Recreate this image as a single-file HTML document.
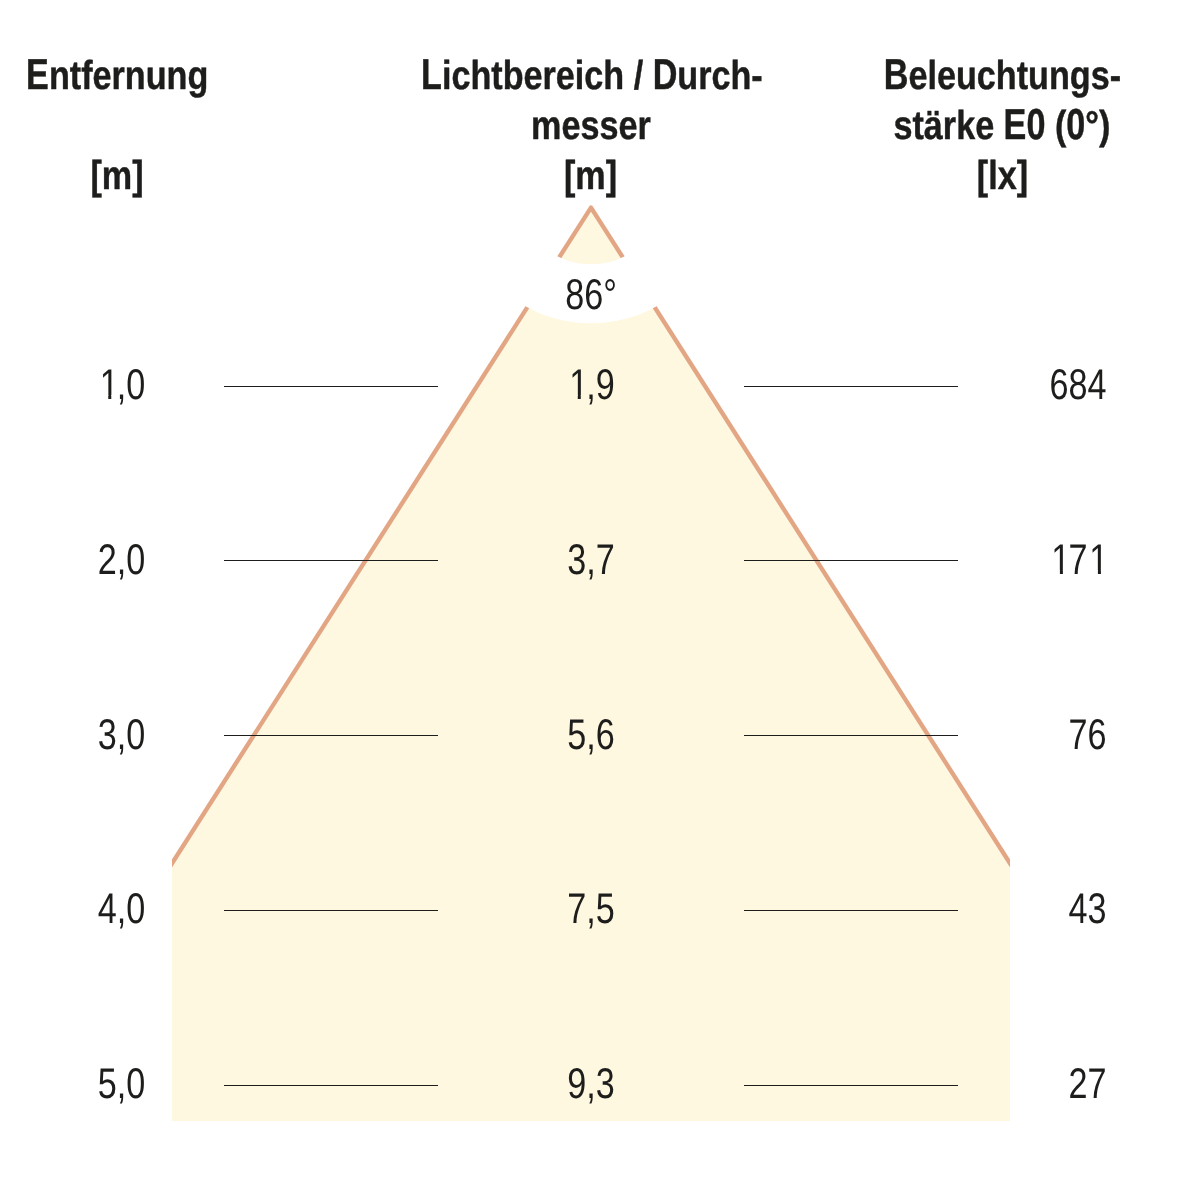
<!DOCTYPE html>
<html lang="de">
<head>
<meta charset="utf-8">
<title>Lichtkegel – Entfernung, Lichtbereich, Beleuchtungsstärke</title>
<style>
html,body{margin:0;padding:0;background:#fff;}
body{width:1182px;height:1182px;overflow:hidden;}
svg{display:block;}
text{font-family:"Liberation Sans",Arial,Helvetica,sans-serif;fill:#1d1d1b;text-rendering:geometricPrecision;}
.h{font-weight:bold;font-size:40.4px;text-anchor:middle;stroke:#1d1d1b;stroke-width:0.45;stroke-linejoin:round;letter-spacing:0px;}
.h .k{font-size:43.2px;}
.n{font-size:42.9px;}
</style>
</head>
<body>
<svg width="1182" height="1182" viewBox="0 0 1182 1182">
  <defs>
    <clipPath id="cone-clip"><rect x="172" y="0" width="838" height="1121"/></clipPath>
    <clipPath id="one0"><path clip-rule="evenodd" d="M-50,-100H200V100H-50Z M3.66,-3.88H13.19V1H3.66Z M16.98,-3.88H26.07V1H16.98Z"/></clipPath>
    <clipPath id="one1"><path clip-rule="evenodd" d="M-50,-100H200V100H-50Z M3.66,-3.88H13.19V1H3.66Z M16.98,-3.88H26.07V1H16.98Z"/></clipPath>
    <clipPath id="one2"><path clip-rule="evenodd" d="M-50,-100H200V100H-50Z M3.66,-3.88H13.19V1H3.66Z M16.98,-3.88H26.07V1H16.98Z M51.37,-3.88H60.91V1H51.37Z M64.70,-3.88H73.79V1H64.70Z"/></clipPath>
  </defs>
  <rect width="1182" height="1182" fill="#fff"/>
  <g clip-path="url(#cone-clip)">
    <polygon points="-48,1207.6 591,207.6 1230,1207.6" fill="#fff8e0"/>
    <polyline points="-48,1207.6 591,207.6 1230,1207.6" fill="none" stroke="#e3a685" stroke-width="4.4" stroke-linejoin="round"/>
  </g>
  <path d="M465.1,207 a125.9,116.3 0 1,0 251.8,0 a125.9,116.3 0 1,0 -251.8,0 Z M524.8,207 a66.2,57.2 0 1,0 132.4,0 a66.2,57.2 0 1,0 -132.4,0 Z" fill="#fff" fill-rule="evenodd"/>
  <g stroke="#1d1d1b" stroke-width="1" shape-rendering="crispEdges">
    <line x1="224" x2="438" y1="386.5" y2="386.5"/>
    <line x1="744" x2="958" y1="386.5" y2="386.5"/>
    <line x1="224" x2="438" y1="560.5" y2="560.5"/>
    <line x1="744" x2="958" y1="560.5" y2="560.5"/>
    <line x1="224" x2="438" y1="735.5" y2="735.5"/>
    <line x1="744" x2="958" y1="735.5" y2="735.5"/>
    <line x1="224" x2="438" y1="910.5" y2="910.5"/>
    <line x1="744" x2="958" y1="910.5" y2="910.5"/>
    <line x1="224" x2="438" y1="1085.5" y2="1085.5"/>
    <line x1="744" x2="958" y1="1085.5" y2="1085.5"/>
  </g>
  <g class="h">
    <text transform="translate(117.20,89) scale(0.8458,1)"><tspan class="k" textLength="26.95" lengthAdjust="spacingAndGlyphs">E</tspan>ntfernung</text>
    <text transform="translate(117.00,189) scale(0.8458,1)">[m]</text>
    <text transform="translate(591.90,89) scale(0.8458,1)"><tspan class="k" textLength="24.68" lengthAdjust="spacingAndGlyphs">L</tspan>ichtbereich / <tspan class="k" textLength="29.17" lengthAdjust="spacingAndGlyphs">D</tspan>urch-</text>
    <text transform="translate(590.90,139) scale(0.8458,1)">messer</text>
    <text transform="translate(590.50,189) scale(0.8458,1)">[m]</text>
    <text transform="translate(1002.40,89) scale(0.8458,1)"><tspan class="k" textLength="29.17" lengthAdjust="spacingAndGlyphs">B</tspan>eleuchtungs-</text>
    <text transform="translate(1001.90,139) scale(0.8458,1)">stärke <tspan class="k" textLength="49.41" lengthAdjust="spacingAndGlyphs">E0</tspan> (<tspan class="k" textLength="22.46" lengthAdjust="spacingAndGlyphs">0</tspan>°)</text>
    <text transform="translate(1002.50,189) scale(0.8458,1)">[lx]</text>
  </g>
  <g class="n">
    <text transform="translate(565.16,309) scale(0.7965,1)">86°</text>
    <text transform="translate(97.75,399) scale(0.7965,1)" clip-path="url(#one0)"><tspan dx="2.4">1</tspan><tspan dx="-2.4">,</tspan>0</text>
    <text transform="translate(97.75,574) scale(0.7965,1)">2,0</text>
    <text transform="translate(97.75,749) scale(0.7965,1)">3,0</text>
    <text transform="translate(97.75,923) scale(0.7965,1)">4,0</text>
    <text transform="translate(97.75,1098) scale(0.7965,1)">5,0</text>
    <text transform="translate(567.25,399) scale(0.7965,1)" clip-path="url(#one1)"><tspan dx="2.4">1</tspan><tspan dx="-2.4">,</tspan>9</text>
    <text transform="translate(567.25,574) scale(0.7965,1)">3,7</text>
    <text transform="translate(567.25,749) scale(0.7965,1)">5,6</text>
    <text transform="translate(567.25,923) scale(0.7965,1)">7,5</text>
    <text transform="translate(567.25,1098) scale(0.7965,1)">9,3</text>
  </g>
  <g class="n">
    <text transform="translate(1049.39,399) scale(0.7965,1)">684</text>
    <text transform="translate(1049.39,574) scale(0.7965,1)" clip-path="url(#one2)"><tspan dx="2.4">1</tspan><tspan dx="-2.4">7</tspan><tspan dx="2.4">1</tspan></text>
    <text transform="translate(1068.39,749) scale(0.7965,1)">76</text>
    <text transform="translate(1068.39,923) scale(0.7965,1)">43</text>
    <text transform="translate(1068.39,1098) scale(0.7965,1)">27</text>
  </g>
</svg>
</body>
</html>
